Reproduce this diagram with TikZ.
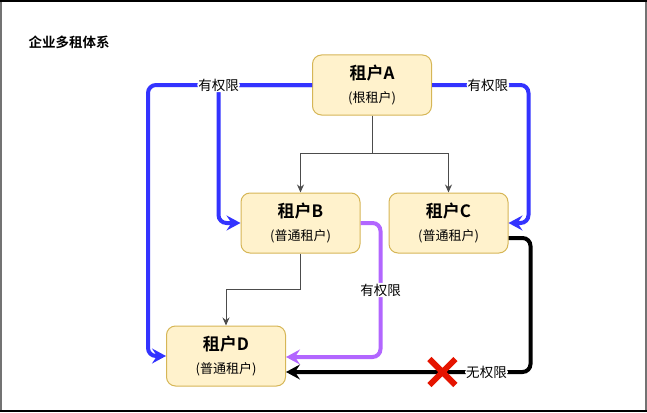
\documentclass[tikz,border=0pt]{standalone}
\usepackage{fontspec}
\setmainfont{Noto Sans CJK SC}[BoldFont={Noto Sans CJK SC Bold}]
\usepackage{tikz}
\usetikzlibrary{arrows.meta,positioning,shapes.misc}

\definecolor{tenantfill}{HTML}{FFF2CC}
\definecolor{tenantline}{HTML}{D6B656}
\definecolor{permblue}{HTML}{3333FF}
\definecolor{permpurple}{HTML}{B266FF}
\definecolor{denyred}{HTML}{E51400}

\begin{document}
\begin{tikzpicture}[
    x=1pt, y=-1pt,
    >=Stealth,
    tenant/.style={draw=tenantline, fill=tenantfill, rounded corners=9pt, line width=1pt,
      minimum width=119pt, minimum height=60pt, align=center, inner sep=0pt},
    link/.style={-{Stealth[length=8pt,width=7pt]}, line width=1pt, draw=black!70},
    perm/.style={-{Stealth[length=14pt,width=15pt,inset=5pt]}, line width=4pt, rounded corners=8pt},
    tag/.style={fill=white, inner sep=1pt, font=\fontsize{13.5}{15}\selectfont},
    denyx/.style={cross out, draw=denyred, line width=6pt, minimum size=20pt, inner sep=0pt}
  ]
    \useasboundingbox (0,0) rectangle (647,412);

    % 外框
    \draw[black!55, line width=2pt] (1,0) -- (1,412) (646,0) -- (646,412);
    \draw[black, line width=2pt] (0,1) -- (647,1) (0,411) -- (647,411);

    % 标题
    \node[anchor=west, font=\bfseries\fontsize{13.5}{16}\selectfont] (title) at (25,42) {企业多租体系};

    % 租户
    \node[tenant] (A) at (372,85)
      {{\bfseries\fontsize{17}{19}\selectfont 租户A}\\[10pt]{\fontsize{13}{15}\selectfont (根租户)}};
    \node[tenant, below=77pt of A, xshift=-71.5pt] (B)
      {{\bfseries\fontsize{17}{19}\selectfont 租户B}\\[10pt]{\fontsize{13}{15}\selectfont (普通租户)}};
    \node[tenant, below=77pt of A, xshift=76.5pt] (C)
      {{\bfseries\fontsize{17}{19}\selectfont 租户C}\\[10pt]{\fontsize{13}{15}\selectfont (普通租户)}};
    \node[tenant, below=72pt of B, xshift=-74.5pt] (D)
      {{\bfseries\fontsize{17}{19}\selectfont 租户D}\\[10pt]{\fontsize{13}{15}\selectfont (普通租户)}};

    % 层级
    \draw[link] (A.south) -- ++(0,38) -| (B.north);
    \draw[link] (A.south) -- ++(0,38) -| (C.north);
    \draw[link] (B.south) -- ++(0,36) -| (D.north);

    % 权限
    \draw[perm, permblue] (A.west) -| ([xshift=-18pt]D.west) -- (D.west);
    \draw[perm, permblue] (A.west) -| node[tag, text=black, pos=0.5] {有权限} ([xshift=-22pt]B.west) -- (B.west);
    \draw[perm, permblue] (A.east) -| node[tag, text=black, pos=0.29] {有权限} ([xshift=20pt]C.east) -- (C.east);
    \draw[perm, permpurple] (B.east) -- ([xshift=20pt]B.east) |- node[tag, text=black, pos=0.25] {有权限} ([yshift=-1pt]D.east);
    \draw[perm, black] ([yshift=-15pt]C.east) -- ([xshift=22pt,yshift=-15pt]C.east)
      |- node[tag, pos=0.59] {无权限} node[denyx, pos=0.68] (deny) {} ([yshift=-16pt]D.east);

\end{tikzpicture}
\end{document}
